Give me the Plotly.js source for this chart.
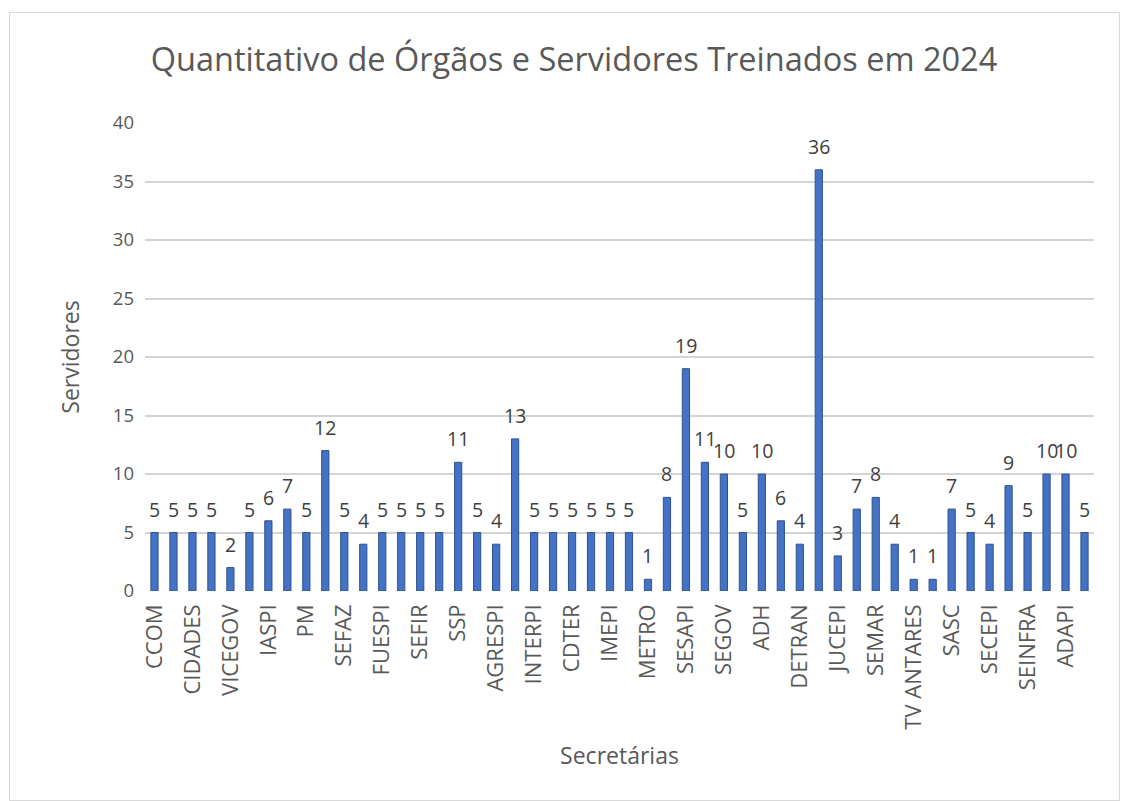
<!DOCTYPE html>
<html>
<head>
<meta charset="utf-8">
<script src="https://cdn.plot.ly/plotly-3.0.1.min.js"></script>
<style>
body{margin:0;padding:0;background:#fff;}
#wrap{position:relative;width:1130px;height:801px;}
#chart{width:1130px;height:801px;}
#frame{position:absolute;left:9px;top:12px;width:1111px;height:789px;border:1px solid #d9d9d9;pointer-events:none;box-sizing:border-box;}
</style>
</head>
<body>
<div id="wrap"><div id="chart"></div><div id="frame"></div></div>
<script>
// Labelled categories (only every other category is labelled in the reference)
const shownLabels = ["CCOM","CIDADES","VICEGOV","IASPI","PM","SEFAZ","FUESPI","SEFIR","SSP","AGRESPI",
  "INTERPI","CDTER","IMEPI","METRO","SESAPI","SEGOV","ADH","DETRAN","JUCEPI","SEMAR",
  "TV ANTARES","SASC","SECEPI","SEINFRA","ADAPI"];
// Servidores treinados per secretaria (50 bars)
const values = [5,5,5,5,2,5,6,7,5,12,5,4,5,5,5,5,11,5,4,13,5,5,5,5,5,5,1,8,19,11,10,5,10,6,4,36,3,7,8,4,1,1,7,5,4,9,5,10,10,5];
const yTicks = [0,5,10,15,20,25,30,35,40];

const xIdx = values.map((v,i)=>i);
const tickvals = shownLabels.map((l,i)=>i*2);

const font = "'Open Sans', 'Noto Sans', sans-serif";
const trace = {
  type:'bar', x:xIdx, y:values,
  width:0.38,
  marker:{color:'#4472C4', line:{color:'#2F528F', width:1}},
  hoverinfo:'x+y'
};
const annotations = values.map((v,i)=>({
  x:i, y:v, xref:'x', yref:'y', text:String(v), showarrow:false,
  yanchor:'bottom', xanchor:'center', yshift:8,
  font:{family:font,size:19.5,color:'#404040'}
}));
const layout = {
  width:1130, height:801,
  margin:{l:145, r:36, t:123, b:210},
  paper_bgcolor:'#fff', plot_bgcolor:'#fff',
  showlegend:false,
  title:{text:'Quantitativo de Órgãos e Servidores Treinados em 2024', x:0.508, xanchor:'center', y:0.925, yanchor:'middle',
    font:{family:font,size:32.5,color:'#595959'}},
  xaxis:{range:[-0.5,49.5], tickvals:tickvals, ticktext:shownLabels, tickangle:-90,
    tickfont:{family:font,size:22,color:'#595959'}, showgrid:false, zeroline:false, showline:false, ticks:'',
    ticklabelstandoff:8,
    title:{text:'Secretárias', font:{family:font,size:23,color:'#595959'}, standoff:19}},
  yaxis:{range:[0,40], tickvals:yTicks, tickfont:{family:font,size:18.5,color:'#595959'},
    gridcolor:'#d4d4d4', gridwidth:2, zeroline:false, showline:false, ticks:'', ticklen:0,
    ticklabelstandoff:10,
    title:{text:'Servidores', font:{family:font,size:23,color:'#595959'}, standoff:26}},
  annotations:annotations,
  bargap:0.6
};
Plotly.newPlot('chart',[trace],layout,{displayModeBar:false,staticPlot:true});
</script>
</body>
</html>
